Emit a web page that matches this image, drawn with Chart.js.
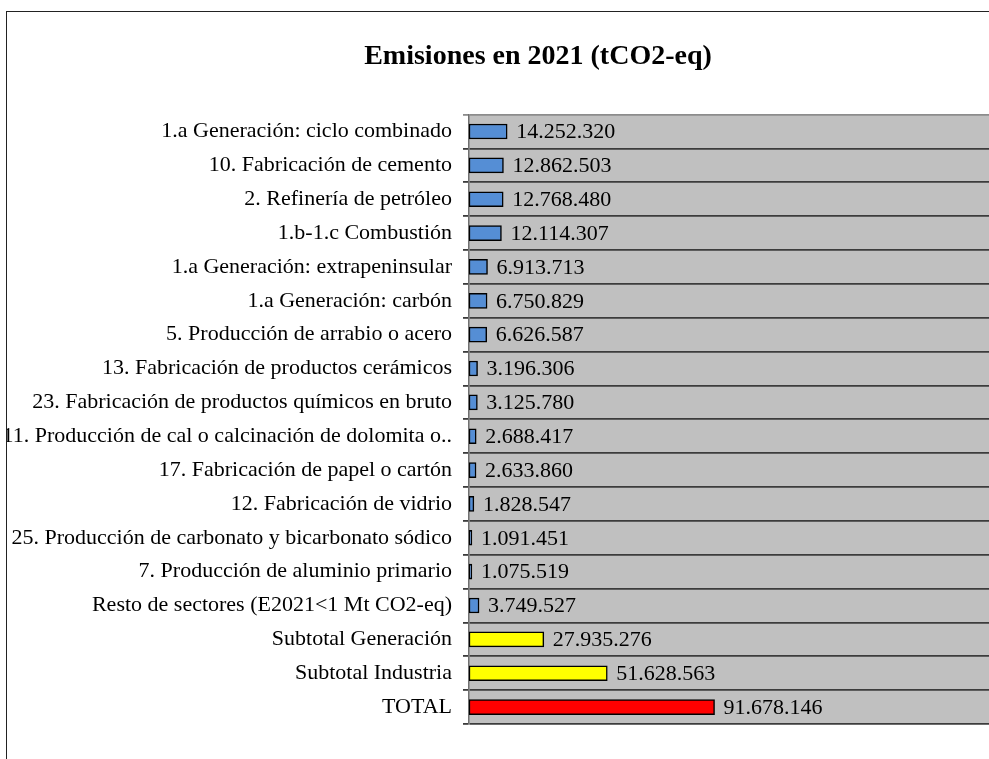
<!DOCTYPE html>
<html>
<head>
<meta charset="utf-8">
<script src="https://cdn.jsdelivr.net/npm/chart.js@4.4.1/dist/chart.umd.min.js"></script>
<style>
  html, body { margin: 0; padding: 0; background: #fff; overflow: hidden; }
  #frame {
    position: absolute; left: 6px; top: 11px;
    width: 1062px; height: 800px;
    border: 1.5px solid #222;
  }
</style>
</head>
<body>
<div id="frame"><canvas id="chart-emis" width="1062" height="800"></canvas></div>
<script>
// categorias y valores (tCO2-eq)
const categories = [
  '1.a Generación: ciclo combinado',
  '10. Fabricación de cemento',
  '2. Refinería de petróleo',
  '1.b-1.c Combustión',
  '1.a Generación: extrapeninsular',
  '1.a Generación: carbón',
  '5. Producción de arrabio o acero',
  '13. Fabricación de productos cerámicos',
  '23. Fabricación de productos químicos en bruto',
  '11. Producción de cal o calcinación de dolomita o..',
  '17. Fabricación de papel o cartón',
  '12. Fabricación de vidrio',
  '25. Producción de carbonato y bicarbonato sódico',
  '7. Producción de aluminio primario',
  'Resto de sectores (E2021<1 Mt CO2-eq)',
  'Subtotal Generación',
  'Subtotal Industria',
  'TOTAL'
];
const emissions = [
  14252320, 12862503, 12768480, 12114307, 6913713, 6750829, 6626587,
  3196306, 3125780, 2688417, 2633860, 1828547, 1091451, 1075519,
  3749527, 27935276, 51628563, 91678146
];
const rowType = [
  'sector', 'sector', 'sector', 'sector', 'sector', 'sector', 'sector',
  'sector', 'sector', 'sector', 'sector', 'sector', 'sector', 'sector',
  'sector', 'subtotal', 'subtotal', 'total'
];
const axisMax = 224000000;

const typeColors = { sector: '#558ED5', subtotal: '#FFFF00', total: '#FF0000' };
const serif = "'Liberation Serif', 'Times New Roman', serif";

function fmt(n) {
  return String(n).replace(/\B(?=(\d{3})+(?!\d))/g, '.');
}

const plotBg = {
  id: 'plotBg',
  beforeDraw(chart) {
    const a = chart.chartArea, c = chart.ctx;
    c.save();
    c.fillStyle = '#C0C0C0';
    c.fillRect(a.left, a.top, a.right - a.left, a.bottom - a.top);
    c.restore();
  }
};

const valueLabels = {
  id: 'valueLabels',
  afterDatasetsDraw(chart) {
    const c = chart.ctx;
    c.save();
    c.font = '22px ' + serif;
    c.fillStyle = '#000';
    c.textBaseline = 'middle';
    chart.getDatasetMeta(0).data.forEach((bar, i) => {
      c.fillText(fmt(emissions[i]), bar.x + 9, bar.y + 1);
    });
    c.restore();
  }
};

new Chart(document.getElementById('chart-emis'), {
  type: 'bar',
  data: {
    labels: categories,
    datasets: [{
      data: emissions,
      backgroundColor: rowType.map(t => typeColors[t]),
      borderColor: '#000',
      borderWidth: 1.5,
      borderSkipped: false,
      barThickness: 15
    }]
  },
  options: {
    indexAxis: 'y',
    responsive: false,
    animation: false,
    layout: { padding: { left: 0, right: 0, top: 0, bottom: 88 } },
    plugins: {
      legend: { display: false },
      tooltip: { enabled: false },
      title: {
        display: true,
        text: 'Emisiones en 2021 (tCO2-eq)',
        color: '#000',
        font: { family: serif, size: 28, weight: 'bold' },
        padding: { top: 28, bottom: 41 }
      }
    },
    scales: {
      x: { display: false, min: 0, max: axisMax },
      y: {
        afterFit(scale) { scale.width = 462; },
        ticks: {
          color: '#000',
          font: { family: serif, size: 22 },
          padding: 11,
          autoSkip: false
        },
        grid: {
          color: ctx => (ctx.index === 0 ? '#8c8c8c' : '#3c3c3c'),
          lineWidth: 1.8,
          tickLength: 6
        },
        border: { color: '#707070', width: 1.5 }
      }
    }
  },
  plugins: [plotBg, valueLabels]
});
</script>
</body>
</html>
